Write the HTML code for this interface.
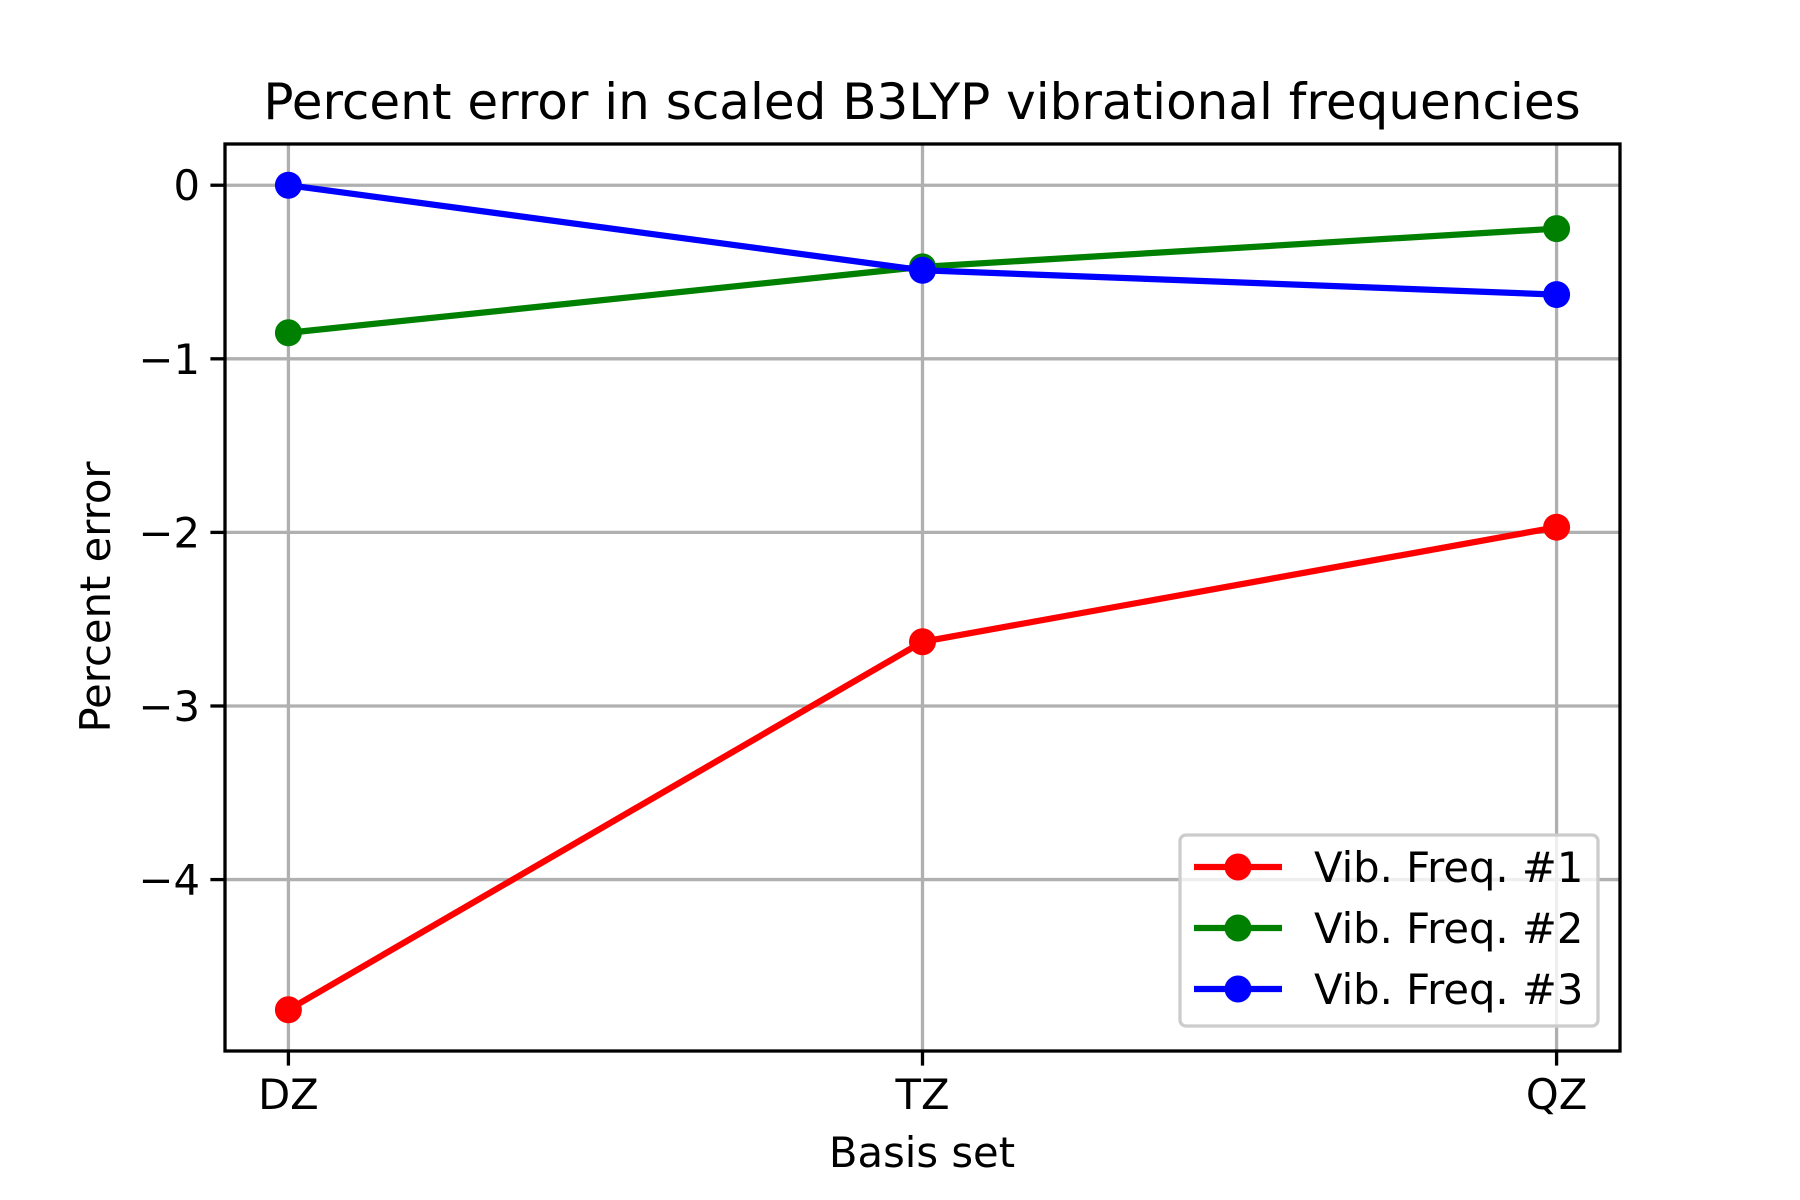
<!DOCTYPE html>
<html><head><meta charset="utf-8"><style>
html,body{margin:0;padding:0;background:#fff;}
svg{display:block;font-family:"DejaVu Sans","Liberation Sans",sans-serif;}
</style></head><body>
<svg id="chart" width="1800" height="1200" viewBox="0 0 1800 1200">
<rect width="1800" height="1200" fill="#fff"/>
<text x="922" y="119" font-size="50" text-anchor="middle">Percent error in scaled B3LYP vibrational frequencies</text>
<g id="grid"></g>
<g id="series"></g>
<rect x="225" y="144" width="1395" height="907" fill="none" stroke="#000" stroke-width="3.3"/>
<g id="ticks"></g>
<text x="922" y="1167" font-size="41.7" text-anchor="middle">Basis set</text>
<text transform="translate(110,597) rotate(-90)" font-size="41.7" text-anchor="middle">Percent error</text>
<g id="legend"></g>
</svg>
<script>
const categories = ["DZ","TZ","QZ"];
const seriesNames = ["Vib. Freq. #1","Vib. Freq. #2","Vib. Freq. #3"];
const seriesColors = ["#ff0000","#008000","#0000ff"];
const freq1 = [-4.75,-2.63,-1.97];
const freq2 = [-0.85,-0.47,-0.25];
const freq3 = [0,-0.49,-0.63];
const yTicks = [0,-1,-2,-3,-4];
const yTickLabels = ["0","\u22121","\u22122","\u22123","\u22124"];

const NS="http://www.w3.org/2000/svg";
const L=225,R=1620,T=144,B=1051;
const allVals=freq1.concat(freq2,freq3);
const vmin=Math.min(...allVals), vmax=Math.max(...allVals);
const ym=(vmax-vmin)*0.05, yMin=vmin-ym, yMax=vmax+ym;
const xMin=-0.1, xMax=categories.length-1+0.1;
function xs(i){return L+(i-xMin)/(xMax-xMin)*(R-L);}
function ys(v){return T+(yMax-v)/(yMax-yMin)*(B-T);}
function mk(tag,attrs,parent){const e=document.createElementNS(NS,tag);for(const k in attrs)e.setAttribute(k,attrs[k]);parent.appendChild(e);return e;}
const grid=document.getElementById('grid'),ticks=document.getElementById('ticks'),ser=document.getElementById('series'),leg=document.getElementById('legend');
categories.forEach((c,i)=>{
  const x=xs(i);
  const g=mk('line',{x1:x,x2:x,y1:T,y2:B,stroke:'#b0b0b0','stroke-width':3.3},grid);
  
  
  const t=mk('line',{x1:x,x2:x,y1:B,y2:B+14.6,stroke:'#000','stroke-width':3.3},ticks);
  
  
  const l=mk('text',{x:x,y:B+58,'font-size':41.7,'text-anchor':'middle'},ticks);
  l.textContent=c;
  
  
});
yTicks.forEach((v,i)=>{
  const y=ys(v);
  const g=mk('line',{x1:L,x2:R,y1:y,y2:y,stroke:'#b0b0b0','stroke-width':3.3},grid);
  
  
  const t=mk('line',{x1:L-14.6,x2:L,y1:y,y2:y,stroke:'#000','stroke-width':3.3},ticks);
  
  
  const l=mk('text',{x:L-25,y:y+15,'font-size':41.7,'text-anchor':'end'},ticks);
  l.textContent=yTickLabels[i];
  
  
});
[freq1,freq2,freq3].forEach((arr,s)=>{
  const col=seriesColors[s];
  const pts=arr.map((v,i)=>xs(i)+','+ys(v)).join(' ');
  const pl=mk('polyline',{points:pts,fill:'none',stroke:col,'stroke-width':6.25,'stroke-linejoin':'round','stroke-linecap':'square'},ser);
  
  
  arr.forEach((v,i)=>{
    const c=mk('circle',{cx:xs(i),cy:ys(v),r:13.5,fill:col},ser);
    
    
  });
});
const lb=mk('rect',{x:1180,y:835,width:418,height:191,rx:6,fill:'#fff','fill-opacity':0.8,stroke:'#cccccc','stroke-width':3.3},leg);


seriesNames.forEach((n,s)=>{
  const y=867+s*61;
  const ln=mk('line',{x1:1194,x2:1282,y1:y,y2:y,stroke:seriesColors[s],'stroke-width':6.25},leg);
  
  
  const c=mk('circle',{cx:1238,cy:y,r:13.5,fill:seriesColors[s]},leg);
  
  
  const t=mk('text',{x:1314,y:y+15,'font-size':41.7},leg);
  t.textContent=n;
  
  
});
</script>
</body></html>
